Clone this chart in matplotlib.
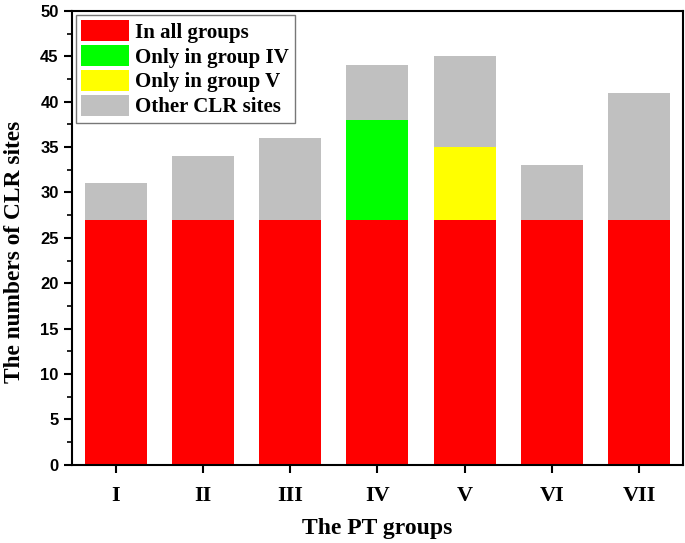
import matplotlib
matplotlib.use('Agg')
import matplotlib.pyplot as plt
import numpy as np

# ***** DATA *****
groups = ['I', 'II', 'III', 'IV', 'V', 'VI', 'VII']
allGroups = [27, 27, 27, 27, 27, 27, 27]
onlyIV = [0, 0, 0, 11, 0, 0, 0]
onlyV = [0, 0, 0, 0, 8, 0, 0]
otherSites = [4, 7, 9, 6, 10, 6, 14]

serif = ['Liberation Serif', 'DejaVu Serif']
sans = ['Liberation Sans', 'DejaVu Sans']

# ***** GRAPHING *****
fig = plt.figure(figsize=(6.85, 5.43), dpi=100)
ax = fig.add_axes([0.105, 0.144, 0.892, 0.836])

x = np.arange(1, len(groups) + 1)
w = 0.71
a = np.array(allGroups)
g = np.array(onlyIV)
yv = np.array(onlyV)
o = np.array(otherSites)

ax.bar(x, a, w, color='#ff0000', label='In all groups')
ax.bar(x, g, w, bottom=a, color='#00ff00', label='Only in group IV')
ax.bar(x, yv, w, bottom=a + g, color='#ffff00', label='Only in group V')
ax.bar(x, o, w, bottom=a + g + yv, color='#c0c0c0', label='Other CLR sites')

ax.set_xlim(0.5, 7.5)
ax.set_ylim(0, 50)
ax.set_xticks(x)
ax.set_xticklabels(groups, fontfamily=serif, fontweight='bold', fontsize=16)
ax.set_yticks(np.arange(0, 51, 5))
ax.set_yticks(np.arange(2.5, 50, 5), minor=True)
ax.set_yticklabels([str(v) for v in range(0, 51, 5)], fontfamily=sans, fontweight='bold', fontsize=12)
ax.tick_params(axis='both', direction='out', width=1.5, length=6)
ax.tick_params(axis='y', which='minor', direction='out', width=1.2, length=3.5)
ax.tick_params(axis='x', pad=9)
for s in ax.spines.values():
    s.set_linewidth(1.5)

ax.set_xlabel('The PT groups', fontfamily=serif, fontweight='bold', fontsize=17, labelpad=9)
ax.set_ylabel('The numbers of CLR sites', fontfamily=serif, fontweight='bold', fontsize=16.8)
ax.yaxis.set_label_coords(-0.076, 0.469)

leg = ax.legend(loc='upper left', prop={'family': serif, 'weight': 'bold', 'size': 15},
                frameon=True, fancybox=False, edgecolor='#555555', handlelength=2.3,
                handleheight=1.15, handletextpad=0.3, labelspacing=0.12, borderpad=0.25,
                borderaxespad=0.2)
leg.get_frame().set_linewidth(1.0)

plt.savefig('out.png', dpi=100)
